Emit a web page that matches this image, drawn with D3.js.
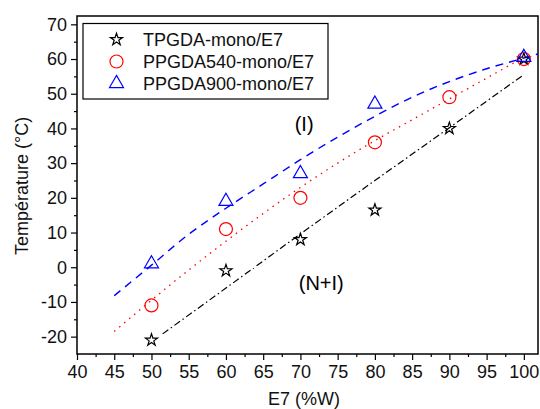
<!DOCTYPE html>
<html>
<head>
<meta charset="utf-8">
<script src="https://cdn.jsdelivr.net/npm/d3@7"></script>
<style>
  body { margin: 0; background: #fff; }
  svg { font-family: "Liberation Sans", Arial, sans-serif; }
</style>
</head>
<body>
<div id="chart"></div>
<script>
// measured points
var xValues = [50, 60, 70, 80, 90, 100];
var tpgda = [-21, -1, 8, 16.5, 40, 60];
var ppgda540 = [-11, 11, 20, 36, 49, 60];
var ppgda900X = [50, 60, 70, 80, 100];
var ppgda900 = [1, 19, 27, 47, 60.5];

// fitted curves
var fitBlackX = [51.5, 60, 70, 80, 90, 100];
var fitBlackY = [-19.2, -6, 9.6, 25, 40.2, 55.5];
var fitRedX = [45, 50, 55, 60, 65, 70, 75, 80, 85, 90, 95, 100];
var fitRedY = [-18.5, -9.5, -0.8, 7.5, 15.5, 23, 30, 36.5, 42.5, 48.5, 54.5, 60.5];
var fitBlueX = [45, 50, 55, 60, 65, 70, 75, 80, 85, 90, 95, 100, 101.9];
var fitBlueY = [-8.2, 0.6, 9.5, 17, 24, 31, 37.5, 43.5, 49, 53.5, 57.2, 60.3, 61.5];

var seriesNames = ["TPGDA-mono/E7", "PPGDA540-mono/E7", "PPGDA900-mono/E7"];
var xTicks = [40, 45, 50, 55, 60, 65, 70, 75, 80, 85, 90, 95, 100];
var yTicks = [-20, -10, 0, 10, 20, 30, 40, 50, 60, 70];

var margin = { top: 16, right: 2, bottom: 55, left: 77 };
var width = 540 - margin.left - margin.right;
var height = 409 - margin.top - margin.bottom;

var svg = d3.select("#chart").append("svg")
    .attr("width", 540)
    .attr("height", 409);
var g = svg.append("g")
    .attr("transform", "translate(" + margin.left + "," + margin.top + ")");

var x = d3.scaleLinear().domain([40, 101.9]).range([0, width]);
var y = d3.scaleLinear().domain([-25, 72.4]).range([height, 0]);

// minor ticks
var xMinor = xTicks.map(function(t) { return t + 2.5; }).filter(function(t) { return t < 101.9; });
var yMinor = [-15, -5, 5, 15, 25, 35, 45, 55, 65];

g.append("g")
    .attr("transform", "translate(0," + height + ")")
    .call(d3.axisBottom(x).tickValues(xMinor).tickSize(3).tickFormat(""))
    .call(function(a) { a.select(".domain").remove(); });
g.append("g")
    .call(d3.axisLeft(y).tickValues(yMinor).tickSize(3).tickFormat(""))
    .call(function(a) { a.select(".domain").remove(); });

var plain = function(d) { return String(d); };

var xAxis = g.append("g")
    .attr("transform", "translate(0," + height + ")")
    .call(d3.axisBottom(x).tickValues(xTicks).tickSize(6).tickPadding(5).tickFormat(plain));
xAxis.select(".domain").remove();
xAxis.selectAll("text").style("font-size", "18px").attr("fill", "#111");

var yAxis = g.append("g")
    .call(d3.axisLeft(y).tickValues(yTicks).tickSize(6).tickPadding(4).tickFormat(plain));
yAxis.select(".domain").remove();
yAxis.selectAll("text").style("font-size", "18px").attr("fill", "#111");

g.selectAll(".tick line").attr("stroke", "#000").attr("stroke-width", 1.2);

// frame
g.append("rect")
    .attr("width", width)
    .attr("height", height)
    .attr("fill", "none")
    .attr("stroke", "#000")
    .attr("stroke-width", 1.5);

var line = d3.line()
    .x(function(d) { return x(d[0]); })
    .y(function(d) { return y(d[1]); })
    .curve(d3.curveMonotoneX);

g.append("path")
    .attr("d", line(d3.zip(fitBlackX, fitBlackY)))
    .attr("fill", "none")
    .attr("stroke", "#000")
    .attr("stroke-width", 1.2)
    .attr("stroke-dasharray", "7,3,1.5,3");
g.append("path")
    .attr("d", line(d3.zip(fitRedX, fitRedY)))
    .attr("fill", "none")
    .attr("stroke", "#ff0000")
    .attr("stroke-width", 1.3)
    .attr("stroke-dasharray", "1.5,5");
g.append("path")
    .attr("d", line(d3.zip(fitBlueX, fitBlueY)))
    .attr("fill", "none")
    .attr("stroke", "#0000ff")
    .attr("stroke-width", 1.4)
    .attr("stroke-dasharray", "8,6");

var star = d3.symbol().type(d3.symbolStar).size(45);
var circle = d3.symbol().type(d3.symbolCircle).size(133);
var tri = d3.symbol().type(d3.symbolTriangle).size(85);

function drawMarks(xs, ys, sym, color) {
    g.selectAll(null)
        .data(d3.zip(xs, ys))
        .enter()
        .append("path")
        .attr("transform", function(d) { return "translate(" + x(d[0]) + "," + y(d[1]) + ")"; })
        .attr("d", sym)
        .attr("fill", "none")
        .attr("stroke", color)
        .attr("stroke-width", 1.2);
}
drawMarks(xValues, tpgda, star, "#000");
drawMarks(xValues, ppgda540, circle, "#ff0000");
drawMarks(ppgda900X, ppgda900, tri, "#0000ff");

// region labels
g.append("text")
    .attr("x", x(70.5))
    .attr("y", y(39.2))
    .attr("text-anchor", "middle")
    .style("font-size", "20px")
    .text("(I)");
g.append("text")
    .attr("x", x(72.8))
    .attr("y", y(-6.5))
    .attr("text-anchor", "middle")
    .style("font-size", "20px")
    .text("(N+I)");

// legend
var legend = svg.append("g");
legend.append("rect")
    .attr("x", 83)
    .attr("y", 23.5)
    .attr("width", 245)
    .attr("height", 75.5)
    .attr("fill", "#fff")
    .attr("stroke", "#000")
    .attr("stroke-width", 1.2);
var legendSyms = [star, circle, tri];
var legendColors = ["#000", "#ff0000", "#0000ff"];
seriesNames.forEach(function(name, i) {
    var ly = 39.5 + i * 22;
    legend.append("path")
        .attr("transform", "translate(116.5," + ly + ")")
        .attr("d", legendSyms[i])
        .attr("fill", "none")
        .attr("stroke", legendColors[i])
        .attr("stroke-width", 1.2);
    legend.append("text")
        .attr("x", 143)
        .attr("y", ly + 6.5)
        .style("font-size", "18px")
        .attr("fill", "#111")
        .text(name);
});

// axis titles
svg.append("text")
    .attr("transform", "translate(28,186)rotate(-90)")
    .attr("text-anchor", "middle")
    .style("font-size", "18px")
    .attr("fill", "#111")
    .text("Température (°C)");
svg.append("text")
    .attr("x", 304)
    .attr("y", 405)
    .attr("text-anchor", "middle")
    .style("font-size", "18px")
    .attr("fill", "#111")
    .text("E7 (%W)");
</script>
</body>
</html>
